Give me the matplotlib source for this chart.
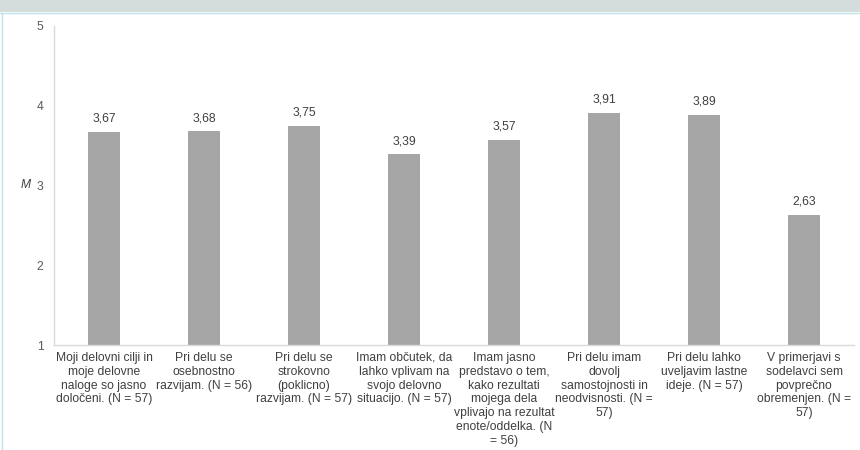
import matplotlib
matplotlib.use("Agg")
import matplotlib.pyplot as plt
from matplotlib.patches import Rectangle
from matplotlib.lines import Line2D

categories = [
    "Moji delovni cilji in\nmoje delovne\nnaloge so jasno\ndoločeni. (N = 57)",
    "Pri delu se\nosebnostno\nrazvijam. (N = 56)",
    "Pri delu se\nstrokovno\n(poklicno)\nrazvijam. (N = 57)",
    "Imam občutek, da\nlahko vplivam na\nsvojo delovno\nsituacijo. (N = 57)",
    "Imam jasno\npredstavo o tem,\nkako rezultati\nmojega dela\nvplivajo na rezultat\nenote/oddelka. (N\n= 56)",
    "Pri delu imam\ndovolj\nsamostojnosti in\nneodvisnosti. (N =\n57)",
    "Pri delu lahko\nuveljavim lastne\nideje. (N = 57)",
    "V primerjavi s\nsodelavci sem\npovprečno\nobremenjen. (N =\n57)",
]
values = [3.67, 3.68, 3.75, 3.39, 3.57, 3.91, 3.89, 2.63]
yticks = [1, 2, 3, 4, 5]

plt.rcParams['font.family'] = ['Liberation Sans', 'DejaVu Sans']

W, H = 860, 450
fs = 8.7
fig = plt.figure(figsize=(W / 100, H / 100), dpi=100)
fig.patch.set_facecolor("white")

# top banner
fig.add_artist(Rectangle((0, 1 - 12 / H), 1, 12 / H, transform=fig.transFigure,
                         facecolor="#d2dddc", edgecolor="none", zorder=0))
fig.add_artist(Line2D([0, 1], [1 - 12.5 / H, 1 - 12.5 / H], transform=fig.transFigure,
                      color="#bfe3e8", lw=1))
fig.add_artist(Line2D([1.5 / W, 1.5 / W], [0, 1 - 12.5 / H], transform=fig.transFigure,
                      color="#bfe3e8", lw=1))

ax = fig.add_axes([54 / W, (H - 345) / H, 800 / W, 319 / H])
x = list(range(len(values)))
ax.bar(x, [v - 1 for v in values], bottom=1, width=0.315, color="#a6a6a6", zorder=2)
for xi, v in zip(x, values):
    ax.text(xi, v + 0.09, f"{v:.2f}".replace(".", ","), ha="center", va="bottom",
            fontsize=fs, color="#404040")

ax.set_xlim(-0.5, len(values) - 0.5)
ax.set_ylim(1, 5)
ax.set_yticks(yticks)
ax.set_yticklabels([str(t) for t in yticks], fontsize=fs, color="#595959")
ax.set_xticks(x)
ax.set_xticklabels(categories, fontsize=fs, color="#404040", linespacing=1.2)
ax.tick_params(axis="both", length=0)
ax.tick_params(axis="y", pad=7.5)
ax.tick_params(axis="x", pad=5)
for s in ["top", "right"]:
    ax.spines[s].set_visible(False)
for s in ["left", "bottom"]:
    ax.spines[s].set_color("#d9d9d9")
    ax.spines[s].set_linewidth(1)

fig.text(31 / W, 1 - 185 / H, "M", ha="right", va="center", fontsize=fs,
         color="#404040", style="italic")

fig.savefig("out.png", dpi=100, facecolor="white")
